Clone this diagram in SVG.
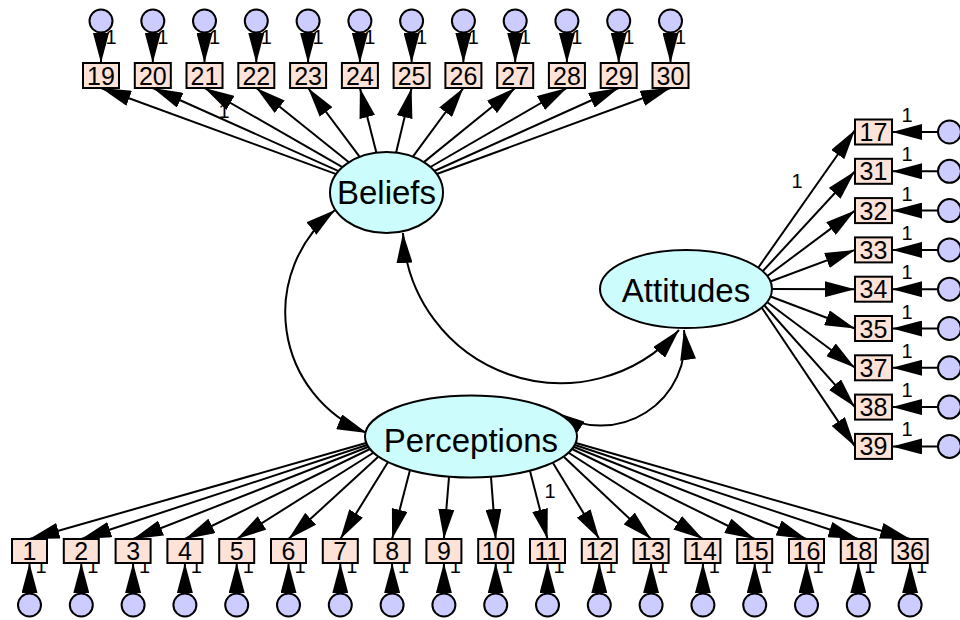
<svg xmlns="http://www.w3.org/2000/svg" width="960" height="620" viewBox="0 0 960 620">
<defs>
<marker id="ah" viewBox="0 0 30 16" refX="30" refY="8" markerWidth="30" markerHeight="16" markerUnits="userSpaceOnUse" orient="auto-start-reverse"><path d="M0,0 L30,8 L0,16 z" fill="#000"/></marker>
<style>
.lat{fill:#ccfcfc;stroke:#000;stroke-width:2}
.obs{fill:#fde2d8;stroke:#000;stroke-width:2}
.err{fill:#ccccff;stroke:#000;stroke-width:2}
.latT{font-family:"Liberation Sans",Arial,sans-serif;font-size:33px;fill:#000;text-anchor:middle}
.obsT{font-family:"Liberation Sans",Arial,sans-serif;font-size:25px;fill:#000;text-anchor:middle}
.one{font-family:"Liberation Sans",Arial,sans-serif;font-size:20px;fill:#000;text-anchor:middle}
#connectors line,#connectors path{stroke:#000;stroke-width:2;fill:none;marker-end:url(#ah)}
#connectors path.cov{marker-start:url(#ah)}
</style>
</defs>
<rect width="960" height="620" fill="#fff"/>
<g id="connectors">
<path class="cov" d="M335,210 A130,130 0 0 0 367,433"/>
<path class="cov" d="M403,233 A158,158 0 0 0 679,330"/>
<path class="cov" d="M555,412 A84,84 0 0 0 684,330"/>
<line x1="336.2" y1="174.1" x2="101" y2="88"/>
<line x1="338.6" y1="171.1" x2="152.8" y2="88"/>
<line x1="342.4" y1="167.2" x2="204.5" y2="88"/>
<line x1="348.9" y1="162.3" x2="256.3" y2="88"/>
<line x1="359.7" y1="156.8" x2="308.1" y2="88"/>
<line x1="376.4" y1="152.7" x2="359.9" y2="88"/>
<line x1="396.1" y1="152.6" x2="411.6" y2="88"/>
<line x1="412.9" y1="156.7" x2="463.4" y2="88"/>
<line x1="423.9" y1="162.1" x2="515.2" y2="88"/>
<line x1="430.4" y1="167" x2="566.9" y2="88"/>
<line x1="434.4" y1="171" x2="618.7" y2="88"/>
<line x1="436.8" y1="174" x2="670.5" y2="88"/>
<line x1="758" y1="268" x2="855" y2="130"/>
<line x1="762" y1="272" x2="855" y2="171.3"/>
<line x1="766" y1="277" x2="855" y2="210.6"/>
<line x1="769" y1="282" x2="855" y2="249.9"/>
<line x1="772" y1="289" x2="855" y2="289.2"/>
<line x1="770.5" y1="296.5" x2="855" y2="328.5"/>
<line x1="767" y1="302" x2="855" y2="367.8"/>
<line x1="764" y1="305" x2="855" y2="407.1"/>
<line x1="762" y1="308" x2="855" y2="446.4"/>
<line x1="366" y1="443" x2="29.5" y2="539"/>
<line x1="367" y1="445" x2="81.3" y2="539"/>
<line x1="368" y1="447" x2="133.1" y2="539"/>
<line x1="370" y1="449" x2="184.9" y2="539"/>
<line x1="373" y1="453" x2="236.7" y2="539"/>
<line x1="378" y1="457" x2="288.5" y2="539"/>
<line x1="388" y1="462" x2="340.3" y2="539"/>
<line x1="410" y1="470" x2="392.1" y2="539"/>
<line x1="449" y1="477" x2="443.9" y2="539"/>
<line x1="491" y1="477" x2="495.7" y2="539"/>
<line x1="530" y1="471" x2="547.5" y2="539"/>
<line x1="553" y1="463" x2="599.3" y2="539"/>
<line x1="564" y1="457" x2="651.1" y2="539"/>
<line x1="569" y1="453" x2="702.9" y2="539"/>
<line x1="572" y1="449" x2="754.7" y2="539"/>
<line x1="574" y1="447" x2="806.5" y2="539"/>
<line x1="575" y1="445" x2="858.3" y2="539"/>
<line x1="576" y1="443" x2="910.1" y2="539"/>
<line x1="101" y1="21" x2="101" y2="63"/>
<line x1="152.8" y1="21" x2="152.8" y2="63"/>
<line x1="204.5" y1="21" x2="204.5" y2="63"/>
<line x1="256.3" y1="21" x2="256.3" y2="63"/>
<line x1="308.1" y1="21" x2="308.1" y2="63"/>
<line x1="359.9" y1="21" x2="359.9" y2="63"/>
<line x1="411.6" y1="21" x2="411.6" y2="63"/>
<line x1="463.4" y1="21" x2="463.4" y2="63"/>
<line x1="515.2" y1="21" x2="515.2" y2="63"/>
<line x1="566.9" y1="21" x2="566.9" y2="63"/>
<line x1="618.7" y1="21" x2="618.7" y2="63"/>
<line x1="670.5" y1="21" x2="670.5" y2="63"/>
<line x1="949.5" y1="132" x2="892" y2="132"/>
<line x1="949.5" y1="171.3" x2="892" y2="171.3"/>
<line x1="949.5" y1="210.6" x2="892" y2="210.6"/>
<line x1="949.5" y1="249.9" x2="892" y2="249.9"/>
<line x1="949.5" y1="289.2" x2="892" y2="289.2"/>
<line x1="949.5" y1="328.5" x2="892" y2="328.5"/>
<line x1="949.5" y1="367.8" x2="892" y2="367.8"/>
<line x1="949.5" y1="407.1" x2="892" y2="407.1"/>
<line x1="949.5" y1="446.4" x2="892" y2="446.4"/>
<line x1="29.5" y1="605" x2="29.5" y2="563"/>
<line x1="81.3" y1="605" x2="81.3" y2="563"/>
<line x1="133.1" y1="605" x2="133.1" y2="563"/>
<line x1="184.9" y1="605" x2="184.9" y2="563"/>
<line x1="236.7" y1="605" x2="236.7" y2="563"/>
<line x1="288.5" y1="605" x2="288.5" y2="563"/>
<line x1="340.3" y1="605" x2="340.3" y2="563"/>
<line x1="392.1" y1="605" x2="392.1" y2="563"/>
<line x1="443.9" y1="605" x2="443.9" y2="563"/>
<line x1="495.7" y1="605" x2="495.7" y2="563"/>
<line x1="547.5" y1="605" x2="547.5" y2="563"/>
<line x1="599.3" y1="605" x2="599.3" y2="563"/>
<line x1="651.1" y1="605" x2="651.1" y2="563"/>
<line x1="702.9" y1="605" x2="702.9" y2="563"/>
<line x1="754.7" y1="605" x2="754.7" y2="563"/>
<line x1="806.5" y1="605" x2="806.5" y2="563"/>
<line x1="858.3" y1="605" x2="858.3" y2="563"/>
<line x1="910.1" y1="605" x2="910.1" y2="563"/>
</g>
<g id="labels">
<text class="one" x="224" y="118">1</text>
<text class="one" x="797" y="188">1</text>
<text class="one" x="550" y="498">1</text>
<text class="one" x="111" y="44">1</text>
<text class="one" x="162.8" y="44">1</text>
<text class="one" x="214.5" y="44">1</text>
<text class="one" x="266.3" y="44">1</text>
<text class="one" x="318.1" y="44">1</text>
<text class="one" x="369.9" y="44">1</text>
<text class="one" x="421.6" y="44">1</text>
<text class="one" x="473.4" y="44">1</text>
<text class="one" x="525.2" y="44">1</text>
<text class="one" x="576.9" y="44">1</text>
<text class="one" x="628.7" y="44">1</text>
<text class="one" x="680.5" y="44">1</text>
<text class="one" x="907" y="122">1</text>
<text class="one" x="907" y="161.3">1</text>
<text class="one" x="907" y="200.6">1</text>
<text class="one" x="907" y="239.9">1</text>
<text class="one" x="907" y="279.2">1</text>
<text class="one" x="907" y="318.5">1</text>
<text class="one" x="907" y="357.8">1</text>
<text class="one" x="907" y="397.1">1</text>
<text class="one" x="907" y="436.4">1</text>
<text class="one" x="41" y="573">1</text>
<text class="one" x="92.8" y="573">1</text>
<text class="one" x="144.6" y="573">1</text>
<text class="one" x="196.4" y="573">1</text>
<text class="one" x="248.2" y="573">1</text>
<text class="one" x="300" y="573">1</text>
<text class="one" x="351.8" y="573">1</text>
<text class="one" x="403.6" y="573">1</text>
<text class="one" x="455.4" y="573">1</text>
<text class="one" x="507.2" y="573">1</text>
<text class="one" x="559" y="573">1</text>
<text class="one" x="610.8" y="573">1</text>
<text class="one" x="662.6" y="573">1</text>
<text class="one" x="714.4" y="573">1</text>
<text class="one" x="766.2" y="573">1</text>
<text class="one" x="818" y="573">1</text>
<text class="one" x="869.8" y="573">1</text>
<text class="one" x="921.6" y="573">1</text>
</g>
<g id="Beliefs"><ellipse class="lat" cx="386.5" cy="192.5" rx="56.5" ry="40.5"/><text class="latT" x="386.5" y="204">Beliefs</text></g>
<g id="Perceptions"><ellipse class="lat" cx="471" cy="436.5" rx="106" ry="41"/><text class="latT" x="471" y="452">Perceptions</text></g>
<g id="Attitudes"><ellipse class="lat" cx="686" cy="289" rx="86" ry="39"/><text class="latT" x="686" y="302">Attitudes</text></g>
<g id="v19"><rect class="obs" x="83" y="63" width="36" height="25"/><text class="obsT" x="101" y="85">19</text></g>
<g id="v20"><rect class="obs" x="134.8" y="63" width="36" height="25"/><text class="obsT" x="152.8" y="85">20</text></g>
<g id="v21"><rect class="obs" x="186.5" y="63" width="36" height="25"/><text class="obsT" x="204.5" y="85">21</text></g>
<g id="v22"><rect class="obs" x="238.3" y="63" width="36" height="25"/><text class="obsT" x="256.3" y="85">22</text></g>
<g id="v23"><rect class="obs" x="290.1" y="63" width="36" height="25"/><text class="obsT" x="308.1" y="85">23</text></g>
<g id="v24"><rect class="obs" x="341.9" y="63" width="36" height="25"/><text class="obsT" x="359.9" y="85">24</text></g>
<g id="v25"><rect class="obs" x="393.6" y="63" width="36" height="25"/><text class="obsT" x="411.6" y="85">25</text></g>
<g id="v26"><rect class="obs" x="445.4" y="63" width="36" height="25"/><text class="obsT" x="463.4" y="85">26</text></g>
<g id="v27"><rect class="obs" x="497.2" y="63" width="36" height="25"/><text class="obsT" x="515.2" y="85">27</text></g>
<g id="v28"><rect class="obs" x="548.9" y="63" width="36" height="25"/><text class="obsT" x="566.9" y="85">28</text></g>
<g id="v29"><rect class="obs" x="600.7" y="63" width="36" height="25"/><text class="obsT" x="618.7" y="85">29</text></g>
<g id="v30"><rect class="obs" x="652.5" y="63" width="36" height="25"/><text class="obsT" x="670.5" y="85">30</text></g>
<g id="e19"><circle class="err" cx="101" cy="21" r="11.5"/></g>
<g id="e20"><circle class="err" cx="152.8" cy="21" r="11.5"/></g>
<g id="e21"><circle class="err" cx="204.5" cy="21" r="11.5"/></g>
<g id="e22"><circle class="err" cx="256.3" cy="21" r="11.5"/></g>
<g id="e23"><circle class="err" cx="308.1" cy="21" r="11.5"/></g>
<g id="e24"><circle class="err" cx="359.9" cy="21" r="11.5"/></g>
<g id="e25"><circle class="err" cx="411.6" cy="21" r="11.5"/></g>
<g id="e26"><circle class="err" cx="463.4" cy="21" r="11.5"/></g>
<g id="e27"><circle class="err" cx="515.2" cy="21" r="11.5"/></g>
<g id="e28"><circle class="err" cx="566.9" cy="21" r="11.5"/></g>
<g id="e29"><circle class="err" cx="618.7" cy="21" r="11.5"/></g>
<g id="e30"><circle class="err" cx="670.5" cy="21" r="11.5"/></g>
<g id="v17"><rect class="obs" x="855" y="119.5" width="37" height="25"/><text class="obsT" x="873.5" y="141">17</text></g>
<g id="v31"><rect class="obs" x="855" y="158.8" width="37" height="25"/><text class="obsT" x="873.5" y="180.3">31</text></g>
<g id="v32"><rect class="obs" x="855" y="198.1" width="37" height="25"/><text class="obsT" x="873.5" y="219.6">32</text></g>
<g id="v33"><rect class="obs" x="855" y="237.4" width="37" height="25"/><text class="obsT" x="873.5" y="258.9">33</text></g>
<g id="v34"><rect class="obs" x="855" y="276.7" width="37" height="25"/><text class="obsT" x="873.5" y="298.2">34</text></g>
<g id="v35"><rect class="obs" x="855" y="316" width="37" height="25"/><text class="obsT" x="873.5" y="337.5">35</text></g>
<g id="v37"><rect class="obs" x="855" y="355.3" width="37" height="25"/><text class="obsT" x="873.5" y="376.8">37</text></g>
<g id="v38"><rect class="obs" x="855" y="394.6" width="37" height="25"/><text class="obsT" x="873.5" y="416.1">38</text></g>
<g id="v39"><rect class="obs" x="855" y="433.9" width="37" height="25"/><text class="obsT" x="873.5" y="455.4">39</text></g>
<g id="e17"><circle class="err" cx="949.5" cy="132" r="11.5"/></g>
<g id="e31"><circle class="err" cx="949.5" cy="171.3" r="11.5"/></g>
<g id="e32"><circle class="err" cx="949.5" cy="210.6" r="11.5"/></g>
<g id="e33"><circle class="err" cx="949.5" cy="249.9" r="11.5"/></g>
<g id="e34"><circle class="err" cx="949.5" cy="289.2" r="11.5"/></g>
<g id="e35"><circle class="err" cx="949.5" cy="328.5" r="11.5"/></g>
<g id="e37"><circle class="err" cx="949.5" cy="367.8" r="11.5"/></g>
<g id="e38"><circle class="err" cx="949.5" cy="407.1" r="11.5"/></g>
<g id="e39"><circle class="err" cx="949.5" cy="446.4" r="11.5"/></g>
<g id="v1"><rect class="obs" x="12" y="539" width="35" height="24"/><text class="obsT" x="29.5" y="560">1</text></g>
<g id="v2"><rect class="obs" x="63.8" y="539" width="35" height="24"/><text class="obsT" x="81.3" y="560">2</text></g>
<g id="v3"><rect class="obs" x="115.6" y="539" width="35" height="24"/><text class="obsT" x="133.1" y="560">3</text></g>
<g id="v4"><rect class="obs" x="167.4" y="539" width="35" height="24"/><text class="obsT" x="184.9" y="560">4</text></g>
<g id="v5"><rect class="obs" x="219.2" y="539" width="35" height="24"/><text class="obsT" x="236.7" y="560">5</text></g>
<g id="v6"><rect class="obs" x="271" y="539" width="35" height="24"/><text class="obsT" x="288.5" y="560">6</text></g>
<g id="v7"><rect class="obs" x="322.8" y="539" width="35" height="24"/><text class="obsT" x="340.3" y="560">7</text></g>
<g id="v8"><rect class="obs" x="374.6" y="539" width="35" height="24"/><text class="obsT" x="392.1" y="560">8</text></g>
<g id="v9"><rect class="obs" x="426.4" y="539" width="35" height="24"/><text class="obsT" x="443.9" y="560">9</text></g>
<g id="v10"><rect class="obs" x="478.2" y="539" width="35" height="24"/><text class="obsT" x="495.7" y="560">10</text></g>
<g id="v11"><rect class="obs" x="530" y="539" width="35" height="24"/><text class="obsT" x="547.5" y="560">11</text></g>
<g id="v12"><rect class="obs" x="581.8" y="539" width="35" height="24"/><text class="obsT" x="599.3" y="560">12</text></g>
<g id="v13"><rect class="obs" x="633.6" y="539" width="35" height="24"/><text class="obsT" x="651.1" y="560">13</text></g>
<g id="v14"><rect class="obs" x="685.4" y="539" width="35" height="24"/><text class="obsT" x="702.9" y="560">14</text></g>
<g id="v15"><rect class="obs" x="737.2" y="539" width="35" height="24"/><text class="obsT" x="754.7" y="560">15</text></g>
<g id="v16"><rect class="obs" x="789" y="539" width="35" height="24"/><text class="obsT" x="806.5" y="560">16</text></g>
<g id="v18"><rect class="obs" x="840.8" y="539" width="35" height="24"/><text class="obsT" x="858.3" y="560">18</text></g>
<g id="v36"><rect class="obs" x="892.6" y="539" width="35" height="24"/><text class="obsT" x="910.1" y="560">36</text></g>
<g id="e1"><circle class="err" cx="29.5" cy="605" r="11.5"/></g>
<g id="e2"><circle class="err" cx="81.3" cy="605" r="11.5"/></g>
<g id="e3"><circle class="err" cx="133.1" cy="605" r="11.5"/></g>
<g id="e4"><circle class="err" cx="184.9" cy="605" r="11.5"/></g>
<g id="e5"><circle class="err" cx="236.7" cy="605" r="11.5"/></g>
<g id="e6"><circle class="err" cx="288.5" cy="605" r="11.5"/></g>
<g id="e7"><circle class="err" cx="340.3" cy="605" r="11.5"/></g>
<g id="e8"><circle class="err" cx="392.1" cy="605" r="11.5"/></g>
<g id="e9"><circle class="err" cx="443.9" cy="605" r="11.5"/></g>
<g id="e10"><circle class="err" cx="495.7" cy="605" r="11.5"/></g>
<g id="e11"><circle class="err" cx="547.5" cy="605" r="11.5"/></g>
<g id="e12"><circle class="err" cx="599.3" cy="605" r="11.5"/></g>
<g id="e13"><circle class="err" cx="651.1" cy="605" r="11.5"/></g>
<g id="e14"><circle class="err" cx="702.9" cy="605" r="11.5"/></g>
<g id="e15"><circle class="err" cx="754.7" cy="605" r="11.5"/></g>
<g id="e16"><circle class="err" cx="806.5" cy="605" r="11.5"/></g>
<g id="e18"><circle class="err" cx="858.3" cy="605" r="11.5"/></g>
<g id="e36"><circle class="err" cx="910.1" cy="605" r="11.5"/></g>
</svg>
